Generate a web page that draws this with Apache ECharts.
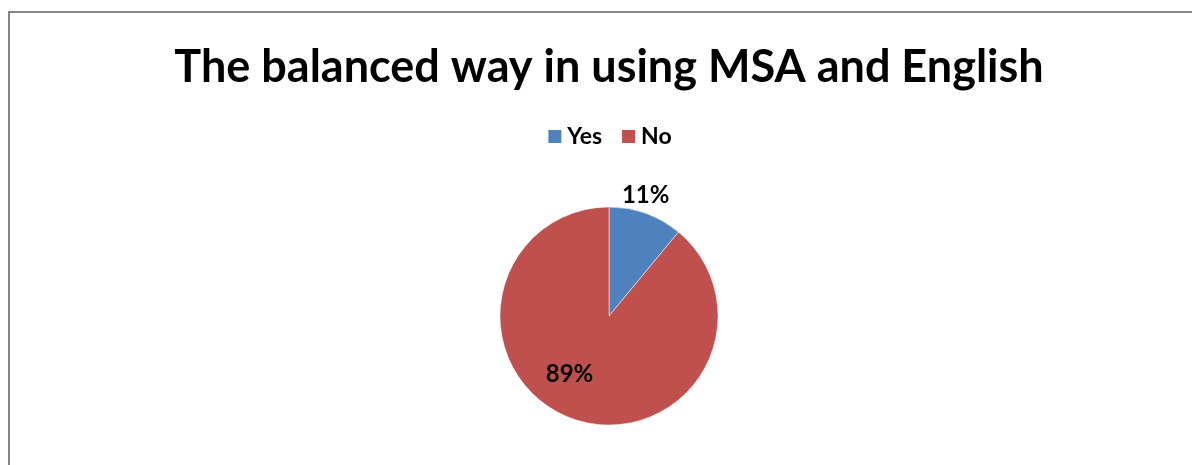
<!DOCTYPE html>
<html>
<head>
<meta charset="utf-8">
<title>The balanced way in using MSA and English</title>
<script src="https://cdn.jsdelivr.net/npm/echarts@6/dist/echarts.min.js"></script>
<style>
  html, body { margin: 0; padding: 0; background: #ffffff; overflow: hidden; }
  #chart { position: absolute; left: 0; top: 0; width: 1218px; height: 465px; }
</style>
</head>
<body>
<div id="chart"></div>
<script>
// Survey answers: share of respondents per answer
const categories = ['Yes', 'No'];
const values = [11, 89];
const colors = ['#4F81BD', '#C0504D'];

const chart = echarts.init(document.getElementById('chart'), null, { renderer: 'canvas' });

const font = 'Lato, "Open Sans", "Liberation Sans", sans-serif';

chart.setOption({
  backgroundColor: '#ffffff',
  animation: false,
  title: {
    text: 'The balanced way in using MSA and English',
    left: 'center',
    top: 37,
    textStyle: {
      fontFamily: font,
      fontWeight: 'bold',
      fontSize: 45,
      lineHeight: 50,
      color: '#000000'
    }
  },
  legend: {
    data: categories,
    left: 'center',
    top: 120,
    icon: 'rect',
    itemWidth: 15,
    itemHeight: 15,
    itemGap: 18,
    textStyle: {
      fontFamily: font,
      fontWeight: 'bold',
      fontSize: 23,
      lineHeight: 23,
      color: '#000000'
    }
  },
  graphic: [{
    type: 'rect',
    silent: true,
    shape: { x: 9, y: 12, width: 1400, height: 800 },
    style: { fill: null, stroke: '#868686', lineWidth: 2 }
  }],
  series: [{
    type: 'pie',
    center: [609, 316],
    radius: 109,
    startAngle: 90,
    clockwise: true,
    avoidLabelOverlap: false,
    itemStyle: { borderColor: '#ffffff', borderWidth: 0.5 },
    label: {
      formatter: '{d}%',
      fontFamily: font,
      fontWeight: 'bold',
      fontSize: 24,
      color: '#000000'
    },
    labelLine: { show: false, length: 6, length2: 0 },
    emphasis: { disabled: true },
    // nudge the percentage labels toward the spots used by the spreadsheet style
    labelLayout: function (params) {
      if (params.dataIndex === 0) return { dx: -31, dy: -13 };
      return { dx: -20, dy: 4 };
    },
    data: categories.map((name, i) => ({
      name: name,
      value: values[i],
      itemStyle: { color: colors[i] },
      label: { position: i === 0 ? 'outside' : 'inside' }
    }))
  }]
});
</script>
</body>
</html>
